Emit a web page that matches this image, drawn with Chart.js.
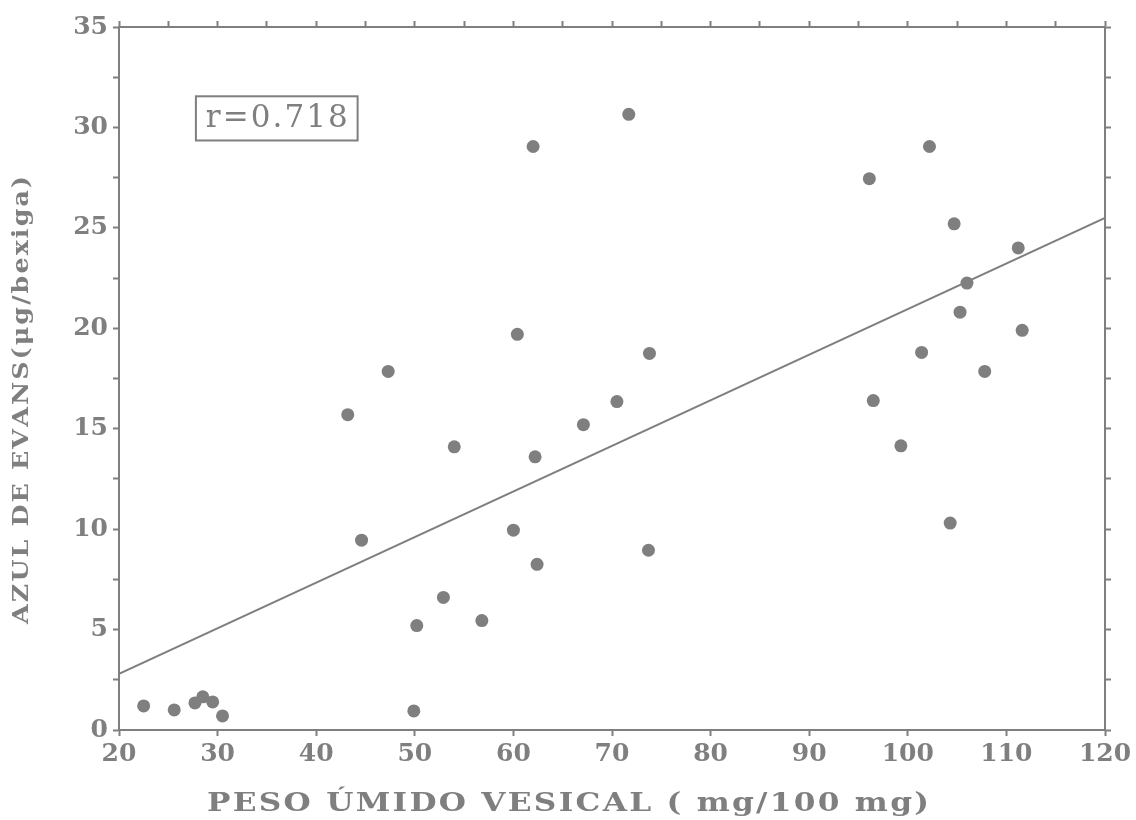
<!DOCTYPE html>
<html>
<head>
<meta charset="utf-8">
<script src="https://cdn.jsdelivr.net/npm/chart.js@4"></script>
<style>
  html, body { margin: 0; padding: 0; background: #fff; }
  #wrap { width: 1136px; height: 820px; }
</style>
</head>
<body>
<div id="wrap"><canvas id="myChart" width="1136" height="820"></canvas></div>
<script>
// peso umido vesical (mg/100 mg) vs azul de Evans (ug/bexiga)
var pesoX = [22.5, 25.6, 27.7, 28.5, 29.5, 30.5,
  43.2, 44.6, 47.3, 49.9, 50.2, 52.9, 54.0, 56.8, 60.0, 60.4, 62.0, 62.2, 62.4,
  67.1, 70.5, 71.7, 73.7, 73.8,
  96.1, 96.5, 99.3, 101.4, 102.2, 104.3, 104.7, 105.3, 106.0, 107.8, 111.2, 111.6];
var azulY = [1.2, 1.0, 1.35, 1.65, 1.4, 0.7,
  15.7, 9.45, 17.85, 0.95, 5.2, 6.6, 14.1, 5.45, 9.95, 19.7, 29.05, 13.6, 8.25,
  15.2, 16.35, 30.65, 8.95, 18.75,
  27.45, 16.4, 14.15, 18.8, 29.05, 10.3, 25.2, 20.8, 22.25, 17.85, 24.0, 19.9];
var lineX = [20, 120];
var lineY = [2.8, 25.5];
var rLabel = 'r=0.718';
var xTitle = 'PESO ÚMIDO VESICAL ( mg/100 mg)';
var yTitle = 'AZUL DE EVANS(μg/bexiga)';

var gray = '#7f7f7f';
var pts = pesoX.map(function (x, i) { return { x: x, y: azulY[i] }; });
var reg = lineX.map(function (x, i) { return { x: x, y: lineY[i] }; });

// draw text char by char, stretched and spread to a given width (centred on cx)
function spaced(c, txt, cx, cy, font, width, stretch) {
  c.save();
  c.font = font;
  c.textAlign = 'left';
  c.textBaseline = 'middle';
  var w = c.measureText(txt).width;
  var sp = (width / stretch - w) / (txt.length - 1);
  c.translate(cx, cy);
  c.scale(stretch, 1);
  var x = -width / stretch / 2;
  for (var i = 0; i < txt.length; i++) {
    c.fillText(txt[i], x, 0);
    x += c.measureText(txt[i]).width + sp;
  }
  c.restore();
}

var extras = {
  id: 'extras',
  afterDraw: function (chart) {
    var c = chart.ctx, xs = chart.scales.x, ys = chart.scales.y;
    // r box
    var l = xs.getPixelForValue(27.8), r = xs.getPixelForValue(44.2);
    var t = ys.getPixelForValue(31.55), b = ys.getPixelForValue(29.35);
    c.save();
    c.strokeStyle = gray;
    c.lineWidth = 2;
    c.strokeRect(l, t, r - l, b - t);
    c.fillStyle = gray;
    c.restore();
    c.save();
    c.fillStyle = gray;
    spaced(c, rLabel, (l + r) / 2, (t + b) / 2 + 1, '31px "DejaVu Serif"', 142, 1);

    // axis titles
    spaced(c, xTitle, 568, 804, 'bold 26px "DejaVu Serif"', 722, 1.2);
    c.translate(22, 401);
    c.rotate(-Math.PI / 2);
    spaced(c, yTitle, 0, 0, 'bold 22px "DejaVu Serif"', 446, 1.15);
    c.restore();
  }
};

var tickFont = { family: 'DejaVu Serif', size: 25, weight: 'bold' };
function frameAxis(pos, size) {
  return {
    type: 'linear',
    position: pos,
    min: pos === 'top' ? 20 : 0,
    max: pos === 'top' ? 120 : 35,
    ticks: { display: false, stepSize: pos === 'top' ? 5 : 2.5 },
    grid: { drawOnChartArea: false, drawTicks: true, tickLength: 6, tickColor: gray, tickWidth: 2 },
    border: { display: true, color: gray, width: 2 },
    afterFit: function (s) { if (pos === 'top') s.height = size; else s.width = size; }
  };
}

var ctx = document.getElementById('myChart').getContext('2d');
var chart = new Chart(ctx, {
  type: 'scatter',
  data: {
    datasets: [{
      data: pts,
      backgroundColor: gray,
      borderColor: gray,
      pointRadius: 6.5,
      pointBorderWidth: 0
    }, {
      type: 'line',
      data: reg,
      borderColor: gray,
      borderWidth: 2,
      pointRadius: 0,
      fill: false
    }]
  },
  options: {
    responsive: false,
    animation: false,
    plugins: { legend: { display: false }, tooltip: { enabled: false } },
    layout: { padding: 0 },
    scales: {
      x: {
        type: 'linear',
        min: 20, max: 120,
        ticks: {
          stepSize: 5, color: gray, font: tickFont, padding: 3, maxRotation: 0,
          callback: function (v) { return v % 10 === 0 ? v : ''; }
        },
        grid: { drawOnChartArea: false, tickLength: 6, tickColor: gray, tickWidth: 2 },
        border: { color: gray, width: 2 },
        afterFit: function (s) { s.height = 90; }
      },
      y: {
        type: 'linear',
        min: 0, max: 35,
        ticks: {
          stepSize: 2.5, color: gray, font: tickFont, padding: 5,
          callback: function (v) { return v % 5 === 0 ? v : ''; }
        },
        grid: { drawOnChartArea: false, tickLength: 6, tickColor: gray, tickWidth: 2 },
        border: { color: gray, width: 2 },
        afterFit: function (s) { s.width = 119; }
      },
      x2: frameAxis('top', 27),
      y2: frameAxis('right', 31)
    }
  },
  plugins: [extras]
});
</script>
</body>
</html>
